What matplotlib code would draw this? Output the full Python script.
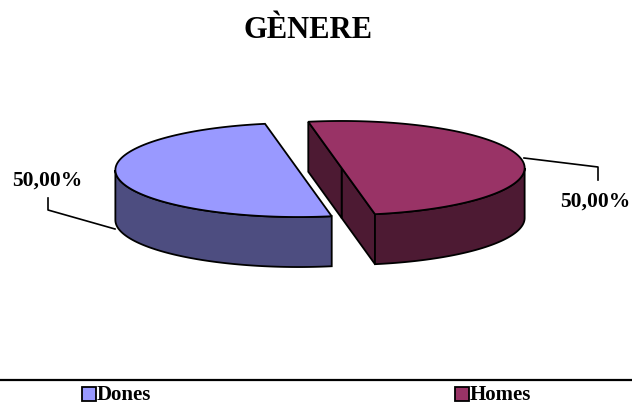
import numpy as np
import matplotlib
matplotlib.use("Agg")
import matplotlib.pyplot as plt
from matplotlib.patches import Polygon, Rectangle

plt.rcParams['font.family'] = ['Liberation Serif', 'DejaVu Serif']
plt.rcParams['font.weight'] = 'bold'

# pie data
categories = ['Dones', 'Homes']
values = [50.0, 50.0]
top_colors = ['#9999FF', '#993366']
side_colors = ['#4D4D80', '#4D1A33']

fig = plt.figure(figsize=(6.32, 4.05), dpi=100)
ax = fig.add_axes([0, 0, 1, 1])
ax.set_xlim(0, 632)
ax.set_ylim(405, 0)
ax.axis('off')

# 3d pie geometry (pixel units, y down)
cx, cy = 320.0, 169.0
a, b = 183.0, 47.0
depth = 50.0
start = 100.5          # angle of first cut, degrees ccw from right
explode = 22.0
lw = 1.3

total = sum(values)
angles = [start]
for v in values:
    angles.append(angles[-1] + 360.0 * v / total)

def pt(c, t, dz=0.0):
    r = np.radians(t)
    return (c[0] + a * np.cos(r), c[1] - b * np.sin(r) + dz)

def arc(c, t1, t2, dz=0.0, n=120):
    ts = np.linspace(t1, t2, n)
    return [pt(c, t, dz) for t in ts]

for i in range(len(values)):
    t1, t2 = angles[i], angles[i + 1]
    mid = np.radians((t1 + t2) / 2)
    c = (cx + explode * np.cos(mid), cy - explode * np.sin(mid) * b / a)

    # cut faces facing the viewer
    if np.cos(mid) > 0:
        for t in (t1, t2):
            p = pt(c, t)
            quad = [c, p, (p[0], p[1] + depth), (c[0], c[1] + depth)]
            ax.add_patch(Polygon(quad, closed=True, fc=side_colors[i],
                                 ec='black', lw=lw, zorder=2))

    # front wall: part of the rim with sin(t) < 0
    lo, hi = max(t1, 180.0), min(t2, 360.0)
    if hi > lo:
        wall = arc(c, lo, hi) + arc(c, hi, lo, depth)
        ax.add_patch(Polygon(wall, closed=True, fc=side_colors[i],
                             ec='black', lw=lw, zorder=3))

    top = [c] + arc(c, t1, t2)
    ax.add_patch(Polygon(top, closed=True, fc=top_colors[i],
                         ec='black', lw=lw, zorder=4, joinstyle='miter'))

# percentage labels with leader lines
labels = [('%.2f%%' % (v / total * 100)).replace('.', ',') for v in values]
ax.plot([48, 48, 115], [198, 210, 229], color='black', lw=1.2, zorder=5)
ax.text(12, 181, labels[0], fontsize=15.5, ha='left', va='center')
ax.plot([524, 598, 598], [158, 167, 180], color='black', lw=1.2, zorder=5)
ax.text(560, 202, labels[1], fontsize=15.5, ha='left', va='center')

ax.text(308, 30, 'GÈNERE', fontsize=22, ha='center', va='center')

# legend strip
ax.plot([0, 632], [380, 380], color='black', lw=1.6)
for x0, name, col in zip([82, 455], categories, top_colors):
    ax.add_patch(Rectangle((x0, 387), 14, 14, fc=col, ec='black', lw=1.3))
    ax.text(x0 + 15, 404.5, name, fontsize=15, ha='left', va='bottom')

fig.savefig('out.png', dpi=100)
